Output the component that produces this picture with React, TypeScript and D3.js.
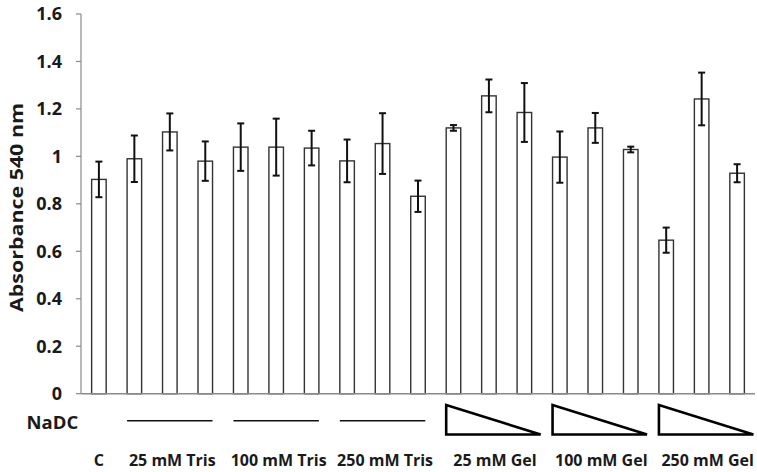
import React from 'react';
import * as d3 from 'd3';

// bar values (absorbance at 540 nm) and error bar half-widths
const categories = [
  'C',
  'T25a', 'T25b', 'T25c',
  'T100a', 'T100b', 'T100c',
  'T250a', 'T250b', 'T250c',
  'G25a', 'G25b', 'G25c',
  'G100a', 'G100b', 'G100c',
  'G250a', 'G250b', 'G250c',
];
const values = [
  0.903,
  0.99, 1.103, 0.98,
  1.039, 1.039, 1.035,
  0.981, 1.054, 0.832,
  1.12, 1.255, 1.185,
  0.997, 1.12, 1.029,
  0.647, 1.242, 0.929,
];
const errors = [
  0.075,
  0.098, 0.078, 0.083,
  0.1, 0.12, 0.073,
  0.09, 0.128, 0.066,
  0.012, 0.069, 0.124,
  0.108, 0.063, 0.012,
  0.053, 0.111, 0.038,
];
const yTicks = [0, 0.2, 0.4, 0.6, 0.8, 1, 1.2, 1.4, 1.6];

// groups below the axis: first bar index, label, marker type
const groupLabels = ['25 mM Tris', '100 mM Tris', '250 mM Tris', '25 mM Gel', '100 mM Gel', '250 mM Gel'];
const groupStart = [1, 4, 7, 10, 13, 16];
const groupKind = ['line', 'line', 'line', 'triangle', 'triangle', 'triangle'];

const width = 757;
const height = 472;
const font = '"Open Sans", Lato, sans-serif';

export default function App() {
  const left = 81;
  const right = 755;
  const top = 14;
  const bottom = 393.7;

  const x = d3.scaleBand<string>().domain(categories).range([left, right]).paddingInner(0.59).paddingOuter(0.3);
  const y = d3.scaleLinear().domain([0, 1.6]).range([bottom, top]);
  const bw = x.bandwidth();
  const fmt = (d: number) => (d === 0 || d === 1 ? String(d) : d.toFixed(1));

  return (
    <svg width={width} height={height} style={{ position: 'absolute', left: 0, top: 0, background: '#fff' }}>
      {/* y axis */}
      <line x1={left} x2={left} y1={top} y2={bottom} stroke="#8a8a8a" strokeWidth={1.2} />
      {yTicks.map(t => (
        <g key={t}>
          <line x1={left - 5} x2={left} y1={y(t)} y2={y(t)} stroke="#8a8a8a" strokeWidth={1.2} />
          <text x={62} y={y(t)} dy="0.36em" textAnchor="end" fontFamily={font} fontWeight={700} fontSize={18} fill="#1a1a1a">
            {fmt(t)}
          </text>
        </g>
      ))}
      <text
        transform="translate(22.5,207.5) rotate(-90)"
        textAnchor="middle"
        fontFamily={font}
        fontWeight={700}
        fontSize={18}
        textLength={209}
        lengthAdjust="spacingAndGlyphs"
        fill="#1a1a1a"
      >
        Absorbance 540 nm
      </text>

      {/* bars */}
      {categories.map((c, i) => (
        <rect key={c} x={x(c)} y={y(values[i])} width={bw} height={y(0) - y(values[i])} fill="#fff" stroke="#333" strokeWidth={1.4} />
      ))}
      {/* error bars */}
      {categories.map((c, i) => {
        const cx = (x(c) as number) + bw / 2;
        const hi = y(values[i] + errors[i]);
        const lo = y(values[i] - errors[i]);
        return (
          <g key={c} stroke="#111" strokeWidth={2}>
            <line x1={cx} x2={cx} y1={hi} y2={lo} />
            <line x1={cx - 3.5} x2={cx + 3.5} y1={hi} y2={hi} />
            <line x1={cx - 3.5} x2={cx + 3.5} y1={lo} y2={lo} />
          </g>
        );
      })}

      {/* x axis */}
      <line x1={left} x2={right} y1={bottom} y2={bottom} stroke="#8a8a8a" strokeWidth={1.4} />

      {/* NaDC row */}
      <text x={26.5} y={428.5} fontFamily={font} fontWeight={700} fontSize={18.5} fill="#1a1a1a">NaDC</text>
      {groupStart.map((s, g) => {
        const x0 = x(categories[s]) as number;
        const x1 = (x(categories[s + 2]) as number) + bw;
        if (groupKind[g] === 'line') {
          return <line key={g} x1={x0} x2={x1} y1={420.7} y2={420.7} stroke="#111" strokeWidth={1.5} />;
        }
        return (
          <path
            key={g}
            d={`M${x0},405 L${x0},434.5 L${x1 + 9},434.5 Z`}
            fill="#fff"
            stroke="#000"
            strokeWidth={2.6}
            strokeLinejoin="miter"
          />
        );
      })}

      {/* category labels */}
      <text x={(x('C') as number) + bw / 2} y={466} textAnchor="middle" fontFamily={font} fontWeight={700} fontSize={16} fill="#1a1a1a">C</text>
      {groupStart.map((s, g) => {
        const cx = (x(categories[s + 1]) as number) + bw / 2 + (g < 3 ? 2.5 : 6);
        return (
          <text key={g} x={cx} y={466} textAnchor="middle" fontFamily={font} fontWeight={700} fontSize={16} fill="#1a1a1a">
            {groupLabels[g]}
          </text>
        );
      })}
    </svg>
  );
}
